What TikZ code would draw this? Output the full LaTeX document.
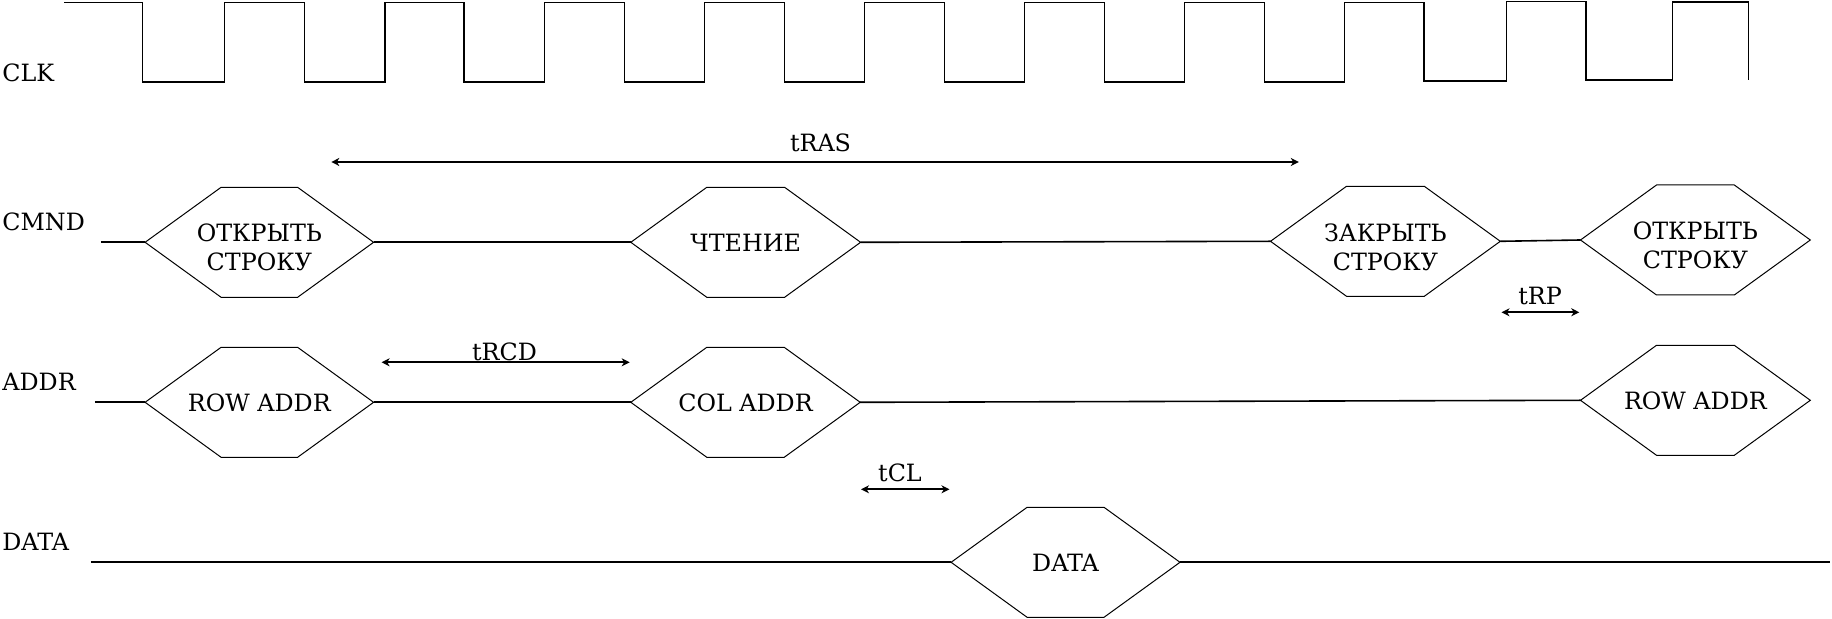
\documentclass[tikz,border=0pt]{standalone}
\usepackage{fontspec}
\setmainfont{DejaVu Serif}
\usetikzlibrary{arrows.meta}
\newcommand\sigfont{\fontsize{11.9}{14.5}\selectfont}
\tikzset{
  wave/.style={line width=0.8pt},
  hexline/.style={line width=0.5pt},
  hextext/.style={inner sep=0pt, align=center, font=\sigfont},
  lbl/.style={inner sep=0pt, anchor=base west, font=\sigfont},
  tlbl/.style={inner sep=0pt, anchor=base, font=\sigfont},
  dim/.style={line width=0.8pt, {Stealth[length=4pt,width=4pt,inset=1.2pt]}-{Stealth[length=4pt,width=4pt,inset=1.2pt]}},
}
% #1 name, #2 left x, #3 right x, #4 mid y, #5 half height, #6 text y, #7 text
\newcommand\hexsig[7]{%
  \coordinate (#1-w) at (#2,#4);
  \coordinate (#1-e) at (#3,#4);
  \draw[hexline] (#1-w) -- (#2+76,#4-#5) -- (#3-76,#4-#5) -- (#1-e) -- (#3-76,#4+#5) -- (#2+76,#4+#5) -- cycle;
  \node[hextext] (#1) at ({(#2+#3)/2},#6) {#7};
}
\begin{document}
\begin{tikzpicture}[x=0.5pt,y=-0.5pt]
\useasboundingbox (0,0) rectangle (1832,619);

% signal labels
\node[lbl] (clk) at (2,82) {CLK};
\node[lbl] (cmnd) at (2,230.7) {CMND};
\node[lbl] (addr) at (2,391) {ADDR};
\node[lbl] (datal) at (2,551) {DATA};

% clock
\draw[wave] (64.4,2.7) -| (142.3,82) -| (224.6,2.7) -| (304.5,82) -| (384.7,2.7)
  -| (464.2,82) -| (544.5,2.7) -| (624.5,82) -| (704.4,2.7) -| (784.3,82)
  -| (864.5,2.7) -| (944.4,82) -| (1024.3,2.7) -| (1104.5,82) -| (1184.4,2.7)
  -| (1264.5,82) -| (1344.3,2.7) -| (1423.7,81) -| (1506.4,1.5) -| (1585.8,80)
  -| (1672.4,2.3) -| (1748.6,80);

% CMND
\hexsig{open1}{145.1}{373.6}{242.3}{55}{247.4}{ОТКРЫТЬ\\СТРОКУ}
\hexsig{read}{630.8}{860.6}{242.3}{55}{243.3}{ЧТЕНИЕ}
\hexsig{close}{1270.5}{1500.3}{241.3}{55}{247.4}{ЗАКРЫТЬ\\СТРОКУ}
\hexsig{open2}{1580.5}{1810.3}{240}{55}{245}{ОТКРЫТЬ\\СТРОКУ}
\coordinate (cmnd-s) at (100.8,242.3);
\draw[wave] (cmnd-s) -- (open1-w);
\draw[wave] (open1-e) -- (read-w);
\draw[wave] (read-e) -- (close-w);
\draw[wave] (close-e) -- (open2-w);

% ADDR
\hexsig{row1}{145.1}{373.6}{402.3}{55}{402.7}{ROW ADDR}
\hexsig{col}{630.8}{860.2}{402.3}{55}{402.7}{COL ADDR}
\hexsig{row2}{1580.5}{1810.3}{400.3}{55}{400.8}{ROW ADDR}
\coordinate (addr-s) at (94.9,402.3);
\draw[wave] (addr-s) -- (row1-w);
\draw[wave] (row1-e) -- (col-w);
\draw[wave] (col-e) -- (row2-w);

% DATA
\hexsig{data}{951.1}{1180}{562.3}{55}{563}{DATA}
\coordinate (data-s) at (90.9,562.3);
\coordinate (data-t) at (1830,562.3);
\draw[wave] (data-s) -- (data-w);
\draw[wave] (data-e) -- (data-t);

% timing arrows
\coordinate (ras-l) at (331.3,162);
\coordinate (ras-r) at (1298.8,162);
\draw[dim] (ras-l) -- (ras-r);
\node[tlbl] (tras) at (820.5,151.7) {tRAS};

\coordinate (rcd-l) at (381.6,362.3);
\coordinate (rcd-r) at (629.7,362.3);
\draw[dim] (rcd-l) -- (rcd-r);
\node[tlbl] (trcd) at (504.5,361) {tRCD};

\coordinate (rp-l) at (1501.5,312.3);
\coordinate (rp-r) at (1579.3,312.3);
\draw[dim] (rp-l) -- (rp-r);
\node[tlbl] (trp) at (1540,304.3) {tRP};

\coordinate (cl-l) at (861,489.3);
\coordinate (cl-r) at (949.5,489.3);
\draw[dim] (cl-l) -- (cl-r);
\node[tlbl] (tcl) at (900,481.7) {tCL};
\end{tikzpicture}
\end{document}
